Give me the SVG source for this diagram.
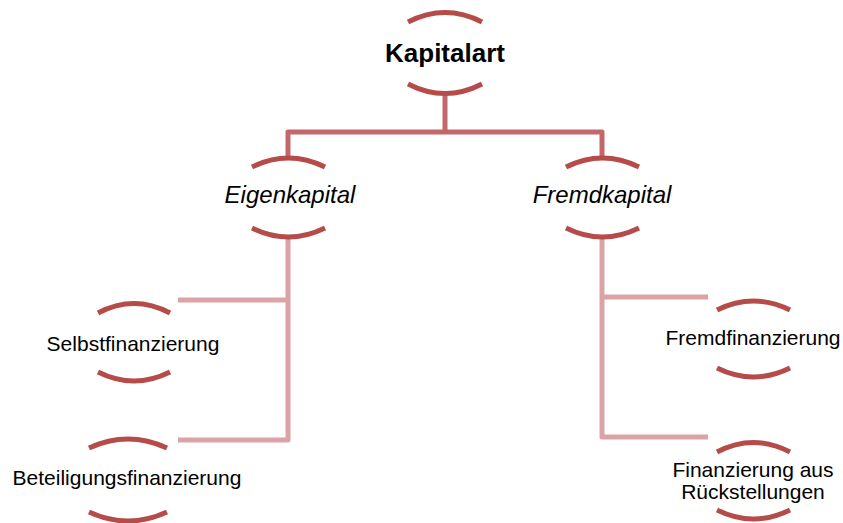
<svg xmlns="http://www.w3.org/2000/svg" width="843" height="523" viewBox="0 0 843 523">
  <style>
    .arc { fill: none; stroke: #b64c4a; stroke-width: 5; stroke-linecap: butt; }
    .lvl1 { fill: none; stroke: #c4676a; stroke-width: 5; stroke-linejoin: round; }
    .lvl2 { fill: none; stroke: #dba3a5; stroke-width: 5; stroke-linejoin: round; }
    text { font-family: "Liberation Sans", Arial, sans-serif; fill: #000; text-anchor: middle; }
    .root { font-size: 26px; font-weight: bold; }
    .mid { font-size: 24px; font-style: italic; }
    .leaf { font-size: 21px; }
  </style>

  <g id="connectors">
    <path class="lvl1" d="M445 94 V132 M288 158 V132 H602 V158"/>
    <path class="lvl2" d="M288 237 V440 H178 M288 300 H178"/>
    <path class="lvl2" d="M602 237 V437 H708 M602 297 H708"/>
  </g>

  <g id="kapitalart">
    <path class="arc" d="M408 22 Q445 3 482 22"/>
    <path class="arc" d="M408 84 Q445 103 482 84"/>
    <text class="root" x="445" y="62">Kapitalart</text>
  </g>

  <g id="eigenkapital">
    <path class="arc" d="M252 167 Q288.5 149 325 167"/>
    <path class="arc" d="M252 228 Q288.5 246 325 228"/>
    <text class="mid" x="290" y="203">Eigenkapital</text>
  </g>

  <g id="fremdkapital">
    <path class="arc" d="M566 167 Q602.5 149 639 167"/>
    <path class="arc" d="M566 228 Q602.5 246 639 228"/>
    <text class="mid" x="602" y="203">Fremdkapital</text>
  </g>

  <g id="selbstfinanzierung">
    <path class="arc" d="M98 313 Q134 294 170 313"/>
    <path class="arc" d="M98 372 Q134 390 170 372"/>
    <text class="leaf" x="133" y="351">Selbstfinanzierung</text>
  </g>

  <g id="beteiligungsfinanzierung">
    <path class="arc" d="M89 448 Q128 430 167 448"/>
    <path class="arc" d="M89 512 Q128 530 167 512"/>
    <text class="leaf" x="127" y="485">Beteiligungsfinanzierung</text>
  </g>

  <g id="fremdfinanzierung">
    <path class="arc" d="M717 310 Q753.5 292 790 310"/>
    <path class="arc" d="M717 368 Q753.5 386 790 368"/>
    <text class="leaf" x="753" y="345">Fremdfinanzierung</text>
  </g>

  <g id="rueckstellungen">
    <path class="arc" d="M717 452 Q753.5 433 790 452"/>
    <path class="arc" d="M717 510 Q753.5 528 790 510"/>
    <text class="leaf" x="753" y="477">Finanzierung aus</text>
    <text class="leaf" x="753" y="499">Rückstellungen</text>
  </g>
</svg>
